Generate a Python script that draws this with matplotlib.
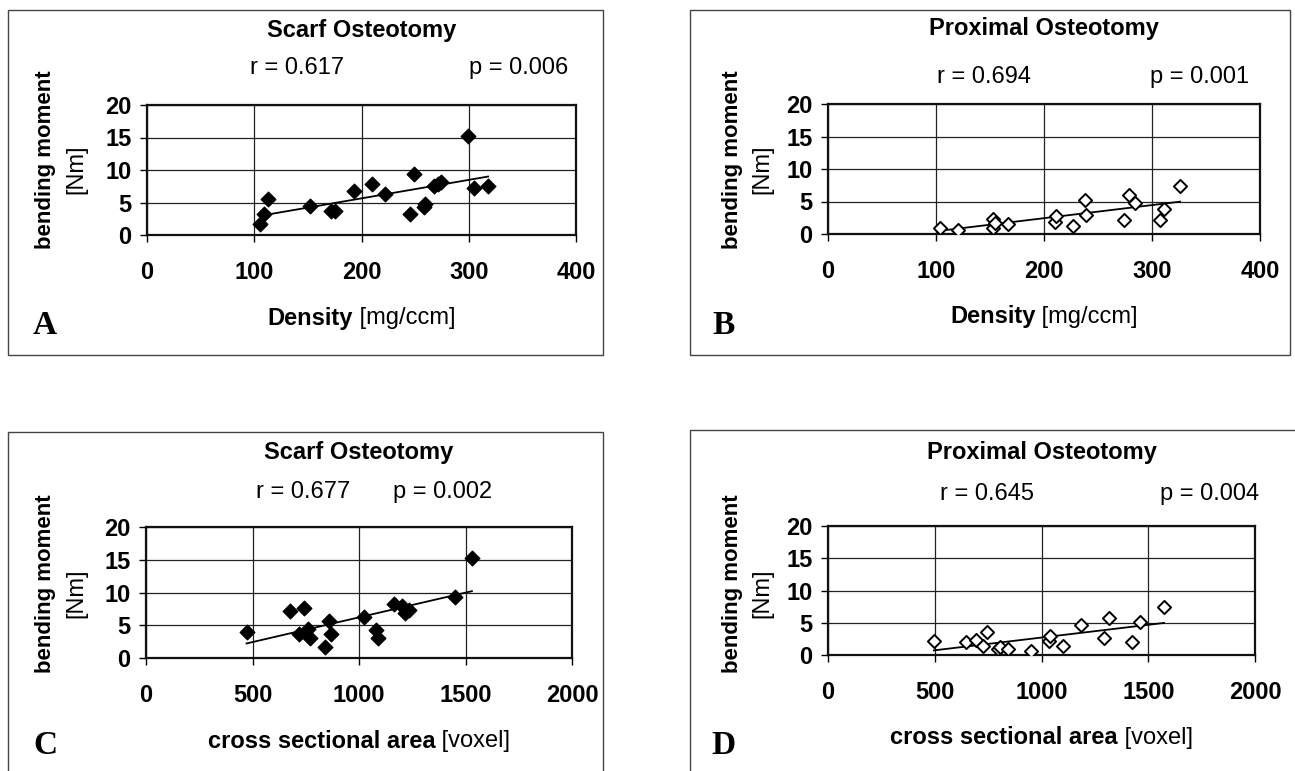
import matplotlib
matplotlib.use("Agg")
import matplotlib.pyplot as plt
import numpy as np
from matplotlib.patches import Rectangle

W, H = 1295, 771

# Panel A: Scarf osteotomy, density vs bending moment
scarf_density = [105, 109, 113, 152, 172, 175, 193, 210, 222, 245, 249,
                 258, 259, 268, 271, 274, 299, 305, 318]
scarf_density_bm = [1.7, 3.2, 5.5, 4.4, 3.7, 3.7, 6.7, 7.9, 6.3, 3.2, 9.4,
                    4.3, 4.8, 7.5, 7.8, 8.2, 15.3, 7.2, 7.6]

# Panel B: Proximal osteotomy, density vs bending moment
prox_density = [104, 120, 153, 153, 155, 167, 210, 211, 227, 238, 239,
                274, 279, 284, 307, 311, 326]
prox_density_bm = [1.0, 0.6, 2.3, 1.0, 1.7, 1.5, 1.9, 2.8, 1.3, 5.2, 3.0,
                   2.2, 6.0, 4.8, 2.1, 3.8, 7.4]

# Panel C: Scarf osteotomy, cross sectional area vs bending moment
scarf_area = [472, 675, 719, 740, 762, 771, 840, 859, 870, 1022, 1082,
              1087, 1165, 1201, 1216, 1233, 1450, 1530]
scarf_area_bm = [4.0, 7.2, 3.6, 7.6, 4.5, 3.1, 1.7, 5.6, 3.6, 6.2, 4.3,
                 3.1, 8.2, 7.9, 6.8, 7.4, 9.3, 15.3]

# Panel D: Proximal osteotomy, cross sectional area vs bending moment
prox_area = [496, 647, 693, 728, 746, 794, 805, 842, 950, 1033, 1042,
             1101, 1184, 1294, 1314, 1423, 1460, 1574]
prox_area_bm = [2.1, 2.0, 2.3, 1.4, 3.6, 0.9, 1.2, 0.9, 0.6, 2.1, 3.0,
                1.4, 4.6, 2.7, 5.8, 2.0, 5.1, 7.5]

SANS = ["Liberation Sans", "DejaVu Sans"]
SERIF = ["Liberation Serif", "DejaVu Serif"]


def fx(x):
    return x / W


def fy(y):
    return 1 - y / H


fig = plt.figure(figsize=(W / 100, H / 100), dpi=100)
fig.patch.set_facecolor("white")
renderer = fig.canvas.get_renderer()


def add_panel(frame, axbox, x, y, filled, xmax, xstep, title,
              r_txt, p_txt, r_pos, p_pos, title_y, stat_y,
              xlab_bold, xlab_reg, ylab_x, ylab_y, letter, letter_pos):
    l, t, r, b = frame
    fig.patches.append(Rectangle((fx(l), fy(b)), (r - l) / W, (b - t) / H,
                                 transform=fig.transFigure, fill=False,
                                 edgecolor="#444444", linewidth=1.0))
    al, at, ar, ab = axbox
    ax = fig.add_axes([fx(al), fy(ab), (ar - al) / W, (ab - at) / H])
    ax.set_xlim(0, xmax)
    ax.set_ylim(0, 20)
    ax.set_xticks(np.arange(0, xmax + 1, xstep))
    ax.set_yticks([0, 5, 10, 15, 20])
    ax.grid(True, color="#222222", linewidth=0.9)
    ax.set_axisbelow(True)
    for s in ax.spines.values():
        s.set_linewidth(1.6)
        s.set_color("#111111")
    ax.tick_params(direction="out", length=5, width=1.0, labelsize=17)
    ax.tick_params(axis="y", pad=6)
    ax.tick_params(axis="x", pad=14)
    for lab in ax.get_xticklabels() + ax.get_yticklabels():
        lab.set_fontweight("bold")
        lab.set_family(SANS)

    if filled:
        ax.scatter(x, y, marker="D", s=55, color="black", zorder=3)
    else:
        ax.scatter(x, y, marker="D", s=45, facecolor="white",
                   edgecolor="black", linewidth=1.4, zorder=3)
    k, c = np.polyfit(x, y, 1)
    xs = np.array([min(x), max(x)])
    ax.plot(xs, k * xs + c, color="black", linewidth=1.3, zorder=2)

    cx = (al + ar) / 2
    fig.text(fx(cx), fy(title_y), title, ha="center", va="center",
             fontsize=17, fontweight="bold", family=SANS)
    fig.text(fx(r_pos), fy(stat_y), r_txt, ha="center", va="center",
             fontsize=17, family=SANS)
    fig.text(fx(p_pos), fy(stat_y), p_txt, ha="center", va="center",
             fontsize=17, family=SANS)

    # x label: bold quantity followed by regular unit, centred as a whole
    xl_y = ab + 83
    tb = fig.text(0, fy(xl_y), xlab_bold, ha="left", va="center",
                  fontsize=17, fontweight="bold", family=SANS)
    tr = fig.text(0, fy(xl_y), " " + xlab_reg, ha="left", va="center",
                  fontsize=17, family=SANS)
    wb = tb.get_window_extent(renderer).width
    wr = tr.get_window_extent(renderer).width
    start = cx - (wb + wr) / 2
    tb.set_x(fx(start))
    tr.set_x(fx(start + wb))

    fig.text(fx(ylab_x), fy(ylab_y), "bending moment", rotation=90,
             ha="center", va="center", fontsize=16, fontweight="bold",
             family=SANS)
    fig.text(fx(ylab_x + 30), fy(ylab_y + 9), "[Nm]", rotation=90,
             ha="center", va="center", fontsize=17, family=SANS)

    fig.text(fx(letter_pos[0]), fy(letter_pos[1]), letter, ha="center",
             va="center", fontsize=24, fontweight="bold", family=SERIF)
    return ax


add_panel((8, 10, 603, 355), (147, 105, 576, 235),
          scarf_density, scarf_density_bm, True, 400, 100,
          "Scarf Osteotomy", "r = 0.617", "p = 0.006", 297, 519, 30, 68,
          "Density", "[mg/ccm]", 46, 160, "A", (45, 325))

add_panel((690, 10, 1290, 355), (828, 104, 1260, 234),
          prox_density, prox_density_bm, False, 400, 100,
          "Proximal Osteotomy", "r = 0.694", "p = 0.001", 984, 1200, 28, 77,
          "Density", "[mg/ccm]", 732, 160, "B", (724, 325))

add_panel((8, 432, 603, 800), (146, 527, 572, 658),
          scarf_area, scarf_area_bm, True, 2000, 500,
          "Scarf Osteotomy", "r = 0.677", "p = 0.002", 303, 443, 452, 492,
          "cross sectional area", "[voxel]", 46, 584, "C", (45, 745))

add_panel((690, 430, 1300, 800), (828, 526, 1255, 655),
          prox_area, prox_area_bm, False, 2000, 500,
          "Proximal Osteotomy", "r = 0.645", "p = 0.004", 987, 1210, 452, 494,
          "cross sectional area", "[voxel]", 732, 584, "D", (724, 745))

fig.savefig("out.png", dpi=100)
